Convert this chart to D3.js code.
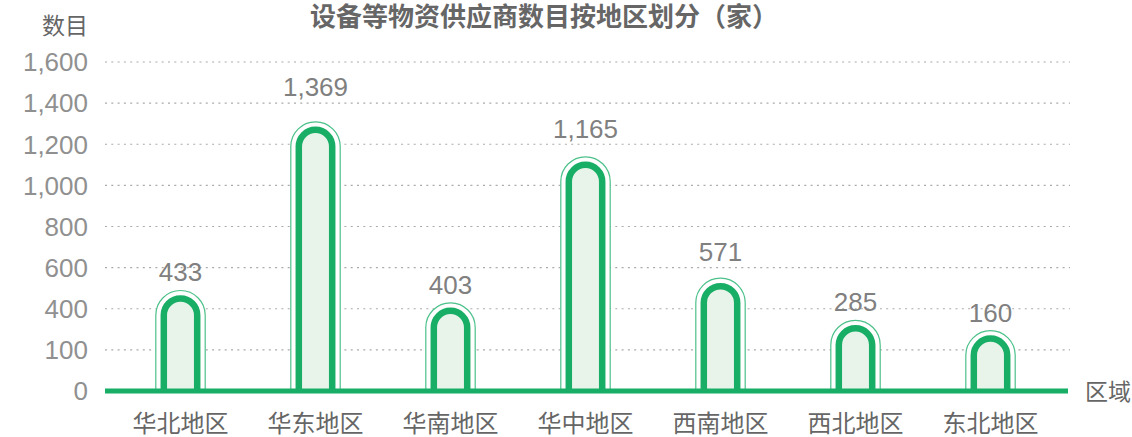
<!DOCTYPE html>
<html>
<head>
<meta charset="utf-8">
<script src="https://cdn.jsdelivr.net/npm/d3@7"></script>
<style>
  body { margin: 0; background: #fff; }
  text { font-family: "Liberation Sans", Arial, "Noto Sans CJK SC", sans-serif; }
</style>
</head>
<body>
<div id="main"></div>
<script>
const regions = ['华北地区', '华东地区', '华南地区', '华中地区', '西南地区', '西北地区', '东北地区'];
// numbers printed above the bars
const counts = [433, 1369, 403, 1165, 571, 285, 160];
// where the bar tops sit on the y axis (they do not follow the printed counts)
const barLevels = [450, 1270, 390, 1100, 510, 305, 255];
const tickValues = [0, 200, 400, 600, 800, 1000, 1200, 1400, 1600];
const tickLabels = ['0', '100', '400', '600', '800', '1,000', '1,200', '1,400', '1,600'];

const width = 1132;
const height = 437;
const green = '#19ae66';

const svg = d3.select('#main')
  .append('svg')
  .attr('width', width)
  .attr('height', height);

const y = d3.scaleLinear().domain([0, 1600]).range([391, 62]);
const x = d3.scalePoint().domain(regions).range([113, 1058]).padding(0.5);

// grid
svg.append('g')
  .selectAll('line')
  .data(tickValues.slice(1))
  .enter()
  .append('line')
  .attr('x1', 105)
  .attr('x2', 1070)
  .attr('y1', d => y(d))
  .attr('y2', d => y(d))
  .attr('stroke', '#aaa')
  .attr('stroke-width', 1.2)
  .attr('stroke-dasharray', '2,4.3');

// y tick labels
svg.append('g')
  .selectAll('text')
  .data(tickValues)
  .enter()
  .append('text')
  .attr('x', 88)
  .attr('y', d => y(d))
  .attr('dy', '0.36em')
  .attr('text-anchor', 'end')
  .attr('fill', '#909090')
  .style('font-size', '26px')
  .text((d, i) => tickLabels[i]);

const r = 16.7;
const gap = 8;

function capPath(cx, top, half, bottom) {
  return `M${cx - half},${bottom} L${cx - half},${top + half} A${half},${half} 0 0 1 ${cx + half},${top + half} L${cx + half},${bottom}`;
}

const bars = svg.append('g')
  .selectAll('g')
  .data(regions)
  .enter()
  .append('g');

// thin outer ring
bars.append('path')
  .attr('d', (d, i) => capPath(x(d), y(barLevels[i]) - gap, r + gap, y(0)))
  .attr('fill', '#fff')
  .attr('stroke', '#4cc18a')
  .attr('stroke-width', 1.2);

// main bar
bars.append('path')
  .attr('d', (d, i) => capPath(x(d), y(barLevels[i]), r, y(0)))
  .attr('fill', '#e8f4ea')
  .attr('stroke', green)
  .attr('stroke-width', 6.5);

// value labels
bars.append('text')
  .attr('x', d => x(d))
  .attr('y', (d, i) => Math.min(y(counts[i]) - 13, y(barLevels[i]) - gap - 9))
  .attr('text-anchor', 'middle')
  .attr('fill', '#808080')
  .style('font-size', '26px')
  .text((d, i) => d3.format(',')(counts[i]));

// x axis line
svg.append('line')
  .attr('x1', 105)
  .attr('x2', 1068)
  .attr('y1', y(0))
  .attr('y2', y(0))
  .attr('stroke', green)
  .attr('stroke-width', 5);

// category labels
svg.append('g')
  .selectAll('text')
  .data(regions)
  .enter()
  .append('text')
  .attr('x', d => x(d))
  .attr('y', 432)
  .attr('text-anchor', 'middle')
  .attr('fill', '#666')
  .style('font-size', '24px')
  .text(d => d);

svg.append('text')
  .attr('x', 1085)
  .attr('y', 400)
  .attr('fill', '#666')
  .style('font-size', '23px')
  .text('区域');

svg.append('text')
  .attr('x', 88)
  .attr('y', 34)
  .attr('text-anchor', 'end')
  .attr('fill', '#666')
  .style('font-size', '23px')
  .text('数目');

svg.append('text')
  .attr('x', 544)
  .attr('y', 26)
  .attr('text-anchor', 'middle')
  .attr('fill', '#666')
  .style('font-size', '26px')
  .style('font-weight', 'bold')
  .text('设备等物资供应商数目按地区划分（家）');
</script>
</body>
</html>
